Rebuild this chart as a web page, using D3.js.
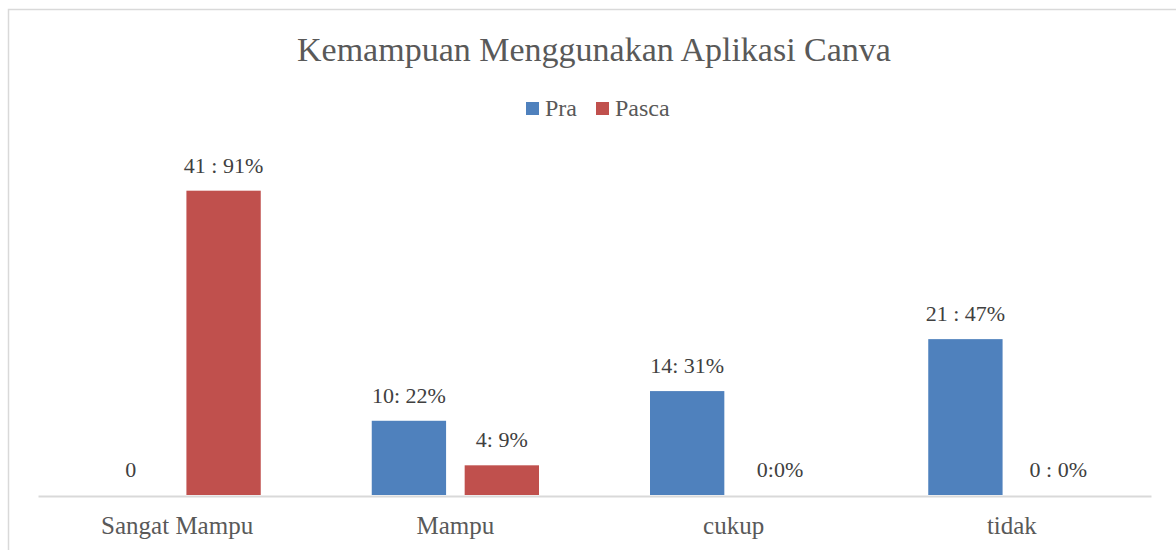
<!DOCTYPE html>
<html>
<head>
<meta charset="utf-8">
<script src="https://cdn.jsdelivr.net/npm/d3@7"></script>
<style>
  body { margin: 0; background: #fff; }
  text { font-family: "Liberation Serif", "DejaVu Serif", serif; }
</style>
</head>
<body>
<div id="vis1"></div>
<script>
const FRAME_WIDTH = 1176;
const FRAME_HEIGHT = 550;
const MARGINS = {left: 38, right: 25, top: 161, bottom: 55};

// data
const categories = ["Sangat Mampu", "Mampu", "cukup", "tidak"];
const series = ["Pra", "Pasca"];
const praValues = [0, 10, 14, 21];
const pascaValues = [41, 4, 0, 0];
const praLabels = ["0", "10: 22%", "14: 31%", "21 : 47%"];
const pascaLabels = ["41 : 91%", "4: 9%", "0:0%", "0 : 0%"];
const colors = ["#4F81BD", "#C0504D"];

const data = categories.map((c, i) => ({
  category: c,
  values: [
    {key: "Pra", value: praValues[i], label: praLabels[i]},
    {key: "Pasca", value: pascaValues[i], label: pascaLabels[i]}
  ]
}));

const svg = d3.select("#vis1")
  .append("svg")
  .attr("width", FRAME_WIDTH)
  .attr("height", FRAME_HEIGHT);

// chart border (only top and left are visible in the frame)
svg.append("rect")
  .attr("x", 8.5).attr("y", 9.5)
  .attr("width", FRAME_WIDTH + 20).attr("height", FRAME_HEIGHT + 20)
  .attr("fill", "none")
  .attr("stroke", "#d9d9d9")
  .attr("stroke-width", 1.5);

const BASE_Y = 495;

const X_Scale = d3.scaleBand()
  .domain(categories)
  .range([MARGINS.left, FRAME_WIDTH - MARGINS.right]);

const X_Inner = d3.scaleBand()
  .domain(series)
  .range([55.5, X_Scale.bandwidth() - 55.5])
  .paddingInner(0.2);

const Y_Scale = d3.scaleLinear()
  .domain([0, 45])
  .range([BASE_Y, MARGINS.top]);

// title
svg.append("text")
  .attr("x", 594).attr("y", 61)
  .attr("text-anchor", "middle")
  .attr("fill", "#595959")
  .style("font-size", "34px")
  .text("Kemampuan Menggunakan Aplikasi Canva");

// legend
const legend = svg.append("g").attr("transform", "translate(526,102)");
const legendX = [0, 70];
series.forEach((s, i) => {
  const g = legend.append("g").attr("transform", "translate(" + legendX[i] + ",0)");
  g.append("rect").attr("width", 13).attr("height", 13).attr("fill", colors[i]);
  g.append("text")
    .attr("x", 19).attr("y", 14)
    .attr("fill", "#595959")
    .style("font-size", "24px")
    .text(s);
});

// bars
const groups = svg.selectAll(".grp")
  .data(data)
  .enter().append("g")
  .attr("class", "grp")
  .attr("transform", d => "translate(" + X_Scale(d.category) + ",0)");

groups.selectAll(".bar")
  .data(d => d.values)
  .enter().append("rect")
  .attr("class", "bar")
  .attr("x", d => X_Inner(d.key))
  .attr("y", d => Y_Scale(d.value))
  .attr("width", X_Inner.bandwidth())
  .attr("height", d => BASE_Y - Y_Scale(d.value))
  .attr("fill", (d, i) => colors[i]);

// data labels
groups.selectAll(".lbl")
  .data(d => d.values)
  .enter().append("text")
  .attr("class", "lbl")
  .attr("x", d => X_Inner(d.key) + X_Inner.bandwidth() / 2)
  .attr("y", d => Y_Scale(d.value) - 18)
  .attr("text-anchor", "middle")
  .attr("fill", "#404040")
  .style("font-size", "22px")
  .text(d => d.label);

// x axis
const xAxis = svg.append("g")
  .attr("transform", "translate(0," + (BASE_Y + 1) + ")")
  .call(d3.axisBottom(X_Scale).tickSize(0).tickPadding(20));
xAxis.select(".domain").attr("stroke", "#d9d9d9").attr("stroke-width", 2);
xAxis.selectAll("text")
  .attr("fill", "#595959")
  .style("font-size", "25px")
  .style("font-family", "'Liberation Serif', serif");
</script>
</body>
</html>
